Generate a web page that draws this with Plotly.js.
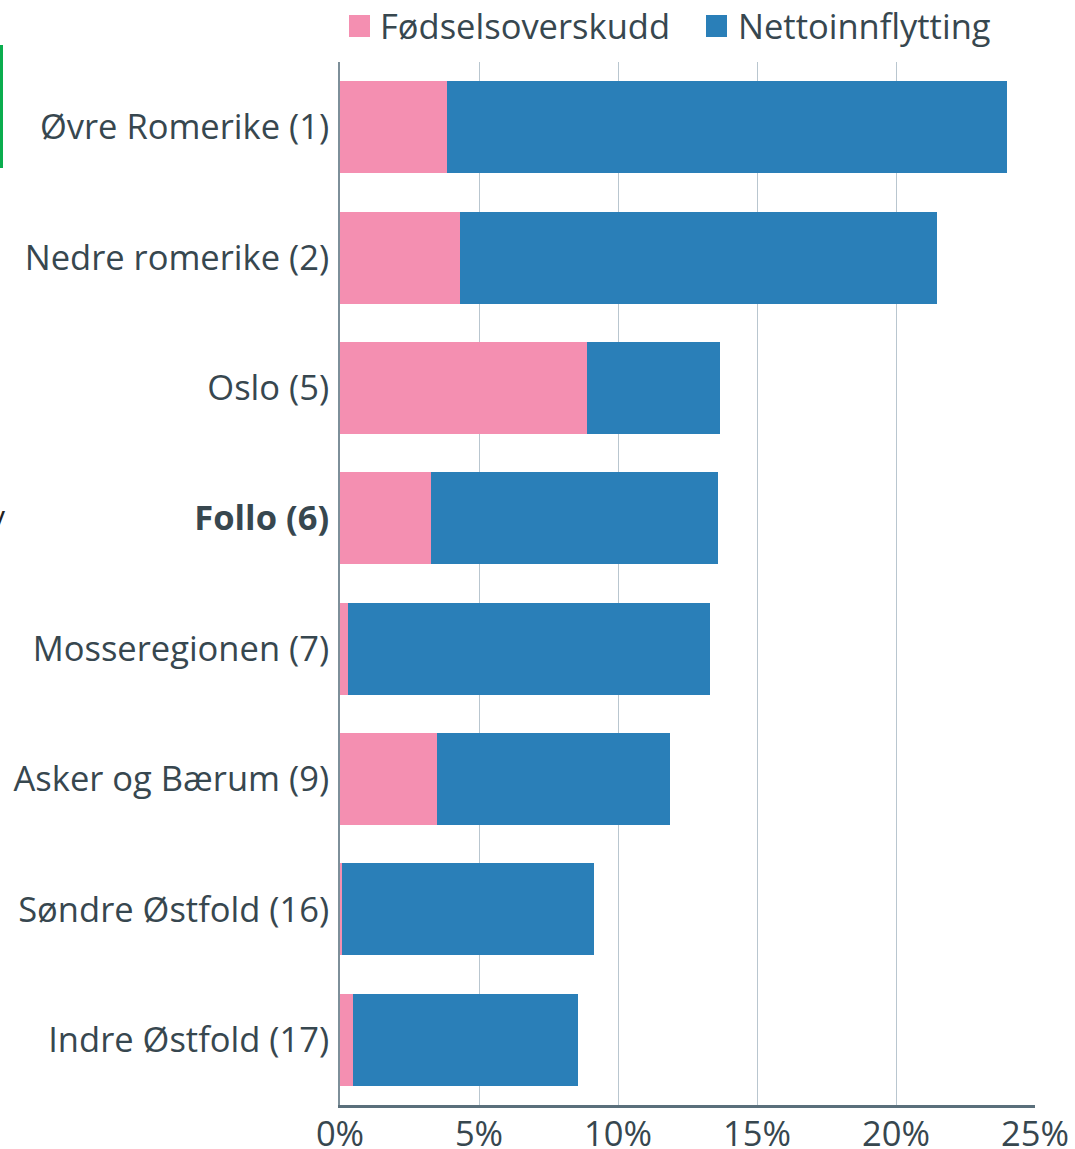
<!DOCTYPE html>
<html>
<head>
<meta charset="utf-8">
<script src="https://cdn.plot.ly/plotly-3.0.1.min.js"></script>
<style>html,body{margin:0;padding:0;background:#fff;}#chart{width:1075px;height:1149px;}</style>
</head>
<body>
<div id="chart"></div>
<script>
const regions = ["Øvre Romerike (1)", "Nedre romerike (2)", "Oslo (5)", "Follo (6)", "Mosseregionen (7)", "Asker og Bærum (9)", "Søndre Østfold (16)", "Indre Østfold (17)"];
const regionLabels = ["Øvre Romerike (1)", "Nedre romerike (2)", "Oslo (5)", "<b>Follo (6)</b>", "Mosseregionen (7)", "Asker og Bærum (9)", "Søndre Østfold (16)", "Indre Østfold (17)"];
const seriesNames = ["Fødselsoverskudd", "Nettoinnflytting"];
const seriesColors = ["#f48fb1", "#2a7fb8"];
const fodselsoverskudd = [3.85, 4.32, 8.88, 3.27, 0.29, 3.49, 0.07, 0.47];
const nettoinnflytting = [20.15, 17.15, 4.79, 10.33, 13.02, 8.38, 9.07, 8.09];
const xTicks = [0, 5, 10, 15, 20, 25];
const xTickText = ["0%", "5%", "10%", "15%", "20%", "25%"];

const textColor = "#37474f";
const fontFam = "'Open Sans', 'Noto Sans', sans-serif";
const FS = 34.5;

const data = [
  {type: "bar", orientation: "h", name: seriesNames[0], y: regions, x: fodselsoverskudd,
   marker: {color: seriesColors[0]}, showlegend: false},
  {type: "bar", orientation: "h", name: seriesNames[1], y: regions, x: nettoinnflytting,
   marker: {color: seriesColors[1]}, showlegend: false}
];

// plot area in pixels: x 340..1035, y 62..1105
const PW = 695, PH = 1043, L = 340, T = 62;
const px = v => (v - L) / PW;
const py = v => (T + PH - v) / PH;

const legendItems = [{sx: 349, tx: 380}, {sx: 706, tx: 738}];
const shapes = [
  {type: "rect", xref: "paper", yref: "paper",
   x0: px(0), x1: px(3), y0: py(168), y1: py(45),
   fillcolor: "#0aad4e", line: {width: 0}}
];
const annotations = [
  {xref: "paper", yref: "paper", x: px(7), xanchor: "right", y: py(515), yanchor: "middle",
   text: "v", showarrow: false, font: {size: 30, color: "#222", family: fontFam}}
];
legendItems.forEach((it, i) => {
  shapes.push({type: "rect", xref: "paper", yref: "paper",
    x0: px(it.sx), x1: px(it.sx + 21), y0: py(37), y1: py(15),
    fillcolor: seriesColors[i], line: {width: 0}});
  annotations.push({xref: "paper", yref: "paper", x: px(it.tx), xanchor: "left",
    y: py(26), yanchor: "middle", text: seriesNames[i], showarrow: false,
    xshift: -2, font: {size: FS, color: textColor, family: fontFam}});
});

const layout = {
  width: 1075, height: 1149,
  margin: {l: 340, r: 40, t: 62, b: 44, pad: 0},
  paper_bgcolor: "#fff", plot_bgcolor: "#fff",
  barmode: "stack", bargap: 0.295,
  font: {family: fontFam, color: textColor, size: FS},
  showlegend: false,
  xaxis: {range: [0, 25], tickvals: xTicks, ticktext: xTickText, showgrid: true,
          gridcolor: "#b9c6cf", gridwidth: 1, zeroline: false,
          showline: true, linecolor: "#5a6f7b", linewidth: 2.5,
          ticks: "", ticklabelstandoff: -3, tickfont: {size: FS, color: textColor}, fixedrange: true, automargin: false},
  yaxis: {type: "category", categoryorder: "array", categoryarray: regions,
          autorange: "reversed", tickvals: regions, ticktext: regionLabels,
          showline: true, linecolor: "#7d8f99", linewidth: 2, showgrid: false,
          ticks: "", ticklabelstandoff: 2, tickfont: {size: FS, color: textColor}, fixedrange: true, automargin: false},
  shapes: shapes,
  annotations: annotations
};

Plotly.newPlot("chart", data, layout, {displayModeBar: false, staticPlot: true});
</script>
</body>
</html>
